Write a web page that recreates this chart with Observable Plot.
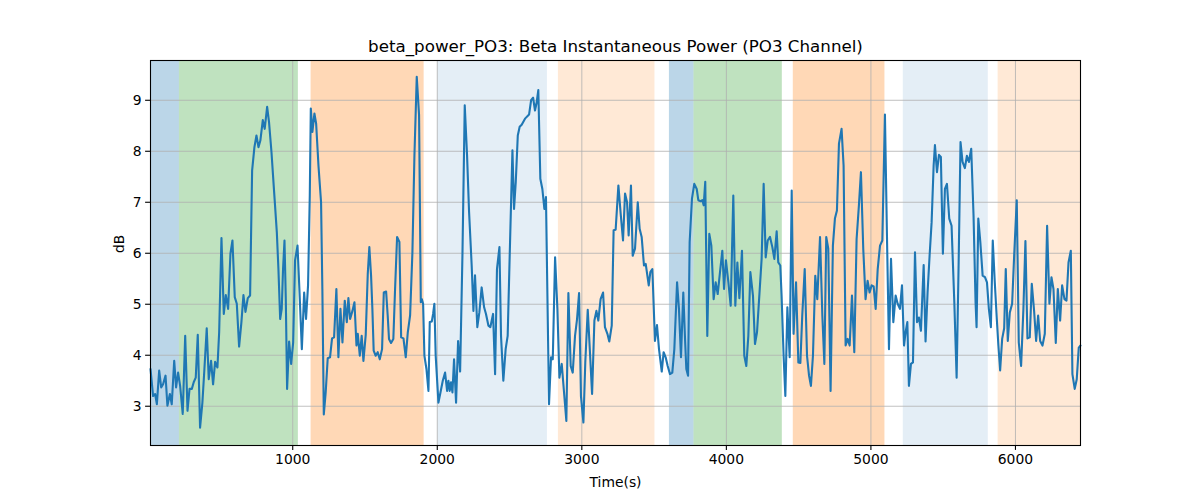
<!DOCTYPE html>
<html><head><meta charset="utf-8">
<script src="https://cdn.jsdelivr.net/npm/d3@7"></script>
<script src="https://cdn.jsdelivr.net/npm/@observablehq/plot@0.6"></script>
<style>html,body{margin:0;padding:0;background:#fff}</style>
</head><body><div id="chart"></div>
<script>
const title = "beta_power_PO3: Beta Instantaneous Power (PO3 Channel)";
const xLabel = "Time(s)";
const yLabel = "dB";
const xTicks = [1000, 2000, 3000, 4000, 5000, 6000];
const yTicks = [3, 4, 5, 6, 7, 8, 9];

const time = [16,34,48,60,76,90,103,120,133,150,163,180,193,207,221,239,256,272,286,302,315,329,343,359,375,389,405,419,435,449,463,479,491,507,523,537,553,569,583,599,613,629,645,659,673,689,705,719,735,749,763,776,793,806,823,836,853,
873,890,901,913,924,933,943,952,961,975,989,1003,1016,1033,1046,1063,1079,1092,1106,1118,1125,1136,1150,1162,1178,1196,1205,1215,1228,1242,1258,1272,1286,1302,1316,1330,1344,1360,1374,1385,1397,1413,1427,1441,1450,1464,1477,1489,1505,1519,1530,1542,1551,1560,1574,1588,1602,1618,1630,1646,1657,1666,1680,1696,
1708,1722,1738,1750,1766,1782,1796,1812,1828,1842,1858,1874,1886,1893,1902,1911,1925,1939,1948,1962,1971,1980,1989,2008,2022,2038,2054,2068,2077,2086,2095,2105,2116,2130,2144,2158,2174,2190,2206,2220,2238,2250,2261,2277,2291,2307,2324,2337,2354,2367,2386,2400,2413,2430,2441,2457,2473,2487,2501,
2520,2531,2543,2557,2570,2584,2607,2635,2649,2663,2676,2686,2699,2713,2727,2741,2752,2773,2787,2799,2815,2831,2845,2861,2877,2893,2907,2923,2937,2953,2967,2981,2994,3011,3024,3041,3057,3071,3087,3101,3114,3130,3147,3160,3177,3190,3207,3220,3234,3253,3269,3285,3299,3313,3324,3340,3352,
3368,3387,3400,3414,3430,3442,3463,3474,3488,3506,3520,3534,3553,3566,3580,3594,3610,3626,3640,3659,3672,3686,3702,3714,3723,3735,3746,3762,3778,3795,3806,3822,3834,3843,3854,3868,3882,3896,3912,3926,3940,3956,3972,3984,3997,4014,4030,4048,4062,4076,4090,4108,4124,4138,4152,4166,
4184,4198,4212,4228,4244,4258,4272,4286,4302,4318,4332,4348,4359,4373,4382,4396,4408,4422,4438,4452,4465,4482,4498,4512,4525,4542,4558,4572,4585,4599,4615,4629,4648,4664,4678,4691,4705,4721,4737,4751,4765,4779,4797,4811,4825,4839,4853,4869,4885,4901,4917,4931,4947,4963,4977,4991,5005,
5019,5033,5047,5063,5079,5097,5111,5125,5139,5155,5171,5185,5201,5215,5229,5240,5252,5263,5277,5291,5305,5319,5332,5346,5365,5378,5392,5406,5420,5434,5443,5457,5471,5484,5498,5512,5526,5542,5558,5577,5593,5607,5620,5634,5650,5664,5678,5694,5710,5724,5731,5743,5757,5773,5789,5803,5816,5830,
5843,5857,5871,5882,5894,5908,5922,5933,5947,5961,5977,5991,6009,6023,6039,6055,6069,6083,6099,6113,6129,6143,6157,6171,6187,6203,6219,6235,6249,6263,6279,6293,6309,6323,6339,6353,6367,6383,6394,6410,6424,6438,6450];

const power = [3.73,3.20,3.24,3.04,3.70,3.37,3.43,3.60,3.01,3.24,3.04,3.89,3.37,3.66,3.40,2.85,4.38,2.91,3.34,3.34,3.47,3.56,4.40,2.58,3.07,3.73,4.53,3.53,3.89,3.43,3.87,3.76,4.45,6.30,4.81,5.18,4.91,5.99,6.25,5.14,5.01,4.17,4.65,5.18,4.85,5.12,5.17,7.62,8.08,8.31,8.08,8.21,8.61,8.44,8.87,8.57,7.98,
7.13,6.41,5.69,4.71,4.91,5.69,6.25,5.10,3.34,4.27,3.83,4.25,5.86,6.15,5.30,4.12,5.23,4.71,5.37,7.13,8.84,8.38,8.74,8.54,7.72,7.00,5.30,2.84,3.27,3.94,3.96,4.33,4.35,5.30,3.96,4.91,4.25,5.07,4.65,5.12,4.71,4.87,5.04,4.19,4.42,3.99,4.38,3.89,4.40,5.59,6.12,5.56,4.91,4.09,3.99,4.06,3.92,4.12,5.23,5.25,4.78,4.32,4.24,4.32,
5.30,6.32,6.22,4.35,4.33,3.96,4.45,4.78,6.02,7.92,9.46,8.71,5.04,5.10,5.01,3.99,3.73,3.30,4.65,4.66,4.81,5.01,3.99,3.07,3.27,3.50,3.66,3.30,3.50,3.30,3.47,3.27,3.92,3.07,4.28,3.68,5.95,8.90,7.92,6.81,5.76,4.87,5.57,4.55,4.84,5.33,4.94,4.81,4.58,4.55,4.81,3.63,5.69,6.12,4.38,3.50,4.12,4.38,5.95,
8.02,6.87,7.40,8.31,8.48,8.52,8.64,8.72,9.00,9.05,8.80,8.93,9.20,7.46,7.26,6.87,7.10,3.04,3.96,3.92,5.92,4.91,3.56,3.83,3.27,2.71,5.22,3.79,3.66,4.38,4.71,5.22,3.20,2.68,3.86,4.89,4.02,3.24,4.68,4.87,4.68,5.10,5.23,4.55,4.42,4.27,4.58,6.45,6.46,7.33,6.77,6.25,7.17,7.00,6.35,7.33,5.95,
6.09,7.00,6.48,6.32,5.76,5.79,5.37,5.63,5.69,4.28,4.59,4.12,3.68,4.06,3.96,3.79,3.63,3.66,4.12,5.43,4.91,3.96,5.23,4.32,3.73,3.60,6.22,7.07,7.36,7.26,7.04,7.02,7.04,6.94,7.40,4.38,6.38,6.15,5.10,5.43,5.20,5.63,6.05,5.30,5.86,5.43,4.97,7.13,4.97,5.82,5.12,6.05,3.99,3.79,4.38,5.63,
5.17,4.22,4.45,5.17,5.89,7.36,5.92,6.25,6.32,6.12,5.89,6.43,5.82,5.76,5.17,3.99,3.20,4.94,3.96,7.23,4.42,5.43,3.86,3.85,4.78,5.69,3.99,3.60,3.40,3.99,5.56,5.10,6.32,4.78,3.83,6.32,6.09,3.30,6.15,6.68,6.84,8.15,8.44,7.72,4.19,4.32,4.19,5.17,4.06,6.28,6.94,7.59,6.09,5.10,5.46,5.23,5.37,
5.35,4.91,5.69,6.15,6.25,8.72,6.35,4.12,5.89,4.65,5.17,5.01,4.91,5.37,4.19,4.45,4.65,3.40,3.83,3.86,6.02,4.65,4.74,4.48,5.77,4.27,5.23,5.95,6.61,7.72,8.12,7.59,7.93,7.89,5.99,7.26,7.36,6.68,6.54,5.04,3.56,5.82,8.18,7.79,7.67,7.91,7.79,8.05,6.74,5.04,4.55,6.68,6.22,5.56,5.53,5.43,4.91,4.55,
6.25,5.43,4.71,4.19,3.70,4.32,4.53,5.69,4.28,4.84,5.01,5.95,7.04,4.25,3.79,4.91,6.24,4.33,4.35,5.40,4.87,4.28,4.78,4.28,4.19,4.42,6.54,5.01,5.53,5.30,4.24,5.30,4.68,5.37,5.10,5.07,5.82,6.05,3.63,3.34,3.53,4.15,4.19];

const spanStart = [16, 216, 1127, 2003, 2838, 3606, 3776, 4463, 5224, 5880];
const spanEnd   = [216, 1039, 1909, 2762, 3506, 3776, 4387, 5097, 5812, 6450];
const spanKind  = ["blue", "green", "orange", "lightblue", "lightorange", "blue", "green", "orange", "lightblue", "lightorange"];

const spanStyle = {
  blue: {fill: "#1f77b4", fillOpacity: 0.3},
  green: {fill: "#2ca02c", fillOpacity: 0.3},
  orange: {fill: "#ff7f0e", fillOpacity: 0.3},
  lightblue: {fill: "#1f77b4", fillOpacity: 0.12},
  lightorange: {fill: "#ff7f0e", fillOpacity: 0.17}
};

const data = time.map((t, i) => ({t, v: power[i]}));
const spans = spanStart.map((s, i) => ({x1: s, x2: spanEnd[i], kind: spanKind[i]}));

const font = "'DejaVu Sans', sans-serif";
const gridStyle = {stroke: "#b0b0b0", strokeOpacity: 1, strokeWidth: 0.8};

const chart = Plot.plot({
  width: 1200,
  height: 500,
  marginLeft: 150,
  marginRight: 120,
  marginTop: 60,
  marginBottom: 55,
  style: {fontFamily: font, fontSize: "13.9px", color: "black", background: "white", overflow: "visible"},
  x: {domain: [time[0], time[time.length - 1]]},
  y: {domain: [2.23, 9.78]},
  marks: [
    ...Object.keys(spanStyle).map(k =>
      Plot.rect(spans.filter(d => d.kind === k), {x1: "x1", x2: "x2", ...spanStyle[k]})
    ),
    Plot.gridX(xTicks, gridStyle),
    Plot.gridY(yTicks, gridStyle),
    Plot.line(data, {x: "t", y: "v", stroke: "#1f77b4", strokeWidth: 2.1}),
    Plot.frame({stroke: "black", strokeWidth: 1.1}),
    Plot.axisX(xTicks, {tickSize: 4.9, tickPadding: 4, tickFormat: d => String(d), label: null, fontSize: 13.9, strokeWidth: 1.1}),
    Plot.axisY(yTicks, {tickSize: 4.9, tickPadding: 4, tickFormat: d => String(d), label: null, fontSize: 13.9, strokeWidth: 1.1}),
    Plot.text([title], {text: d => d, frameAnchor: "top", dy: -14, fontSize: 16.7, lineAnchor: "middle"}),
    Plot.text([xLabel], {text: d => d, frameAnchor: "bottom", dy: 37, fontSize: 13.9, lineAnchor: "middle"}),
    Plot.text([yLabel], {text: d => d, frameAnchor: "left", dx: -31, rotate: -90, fontSize: 13.9, lineAnchor: "middle"})
  ]
});
document.getElementById("chart").appendChild(chart);
</script>
</body></html>
